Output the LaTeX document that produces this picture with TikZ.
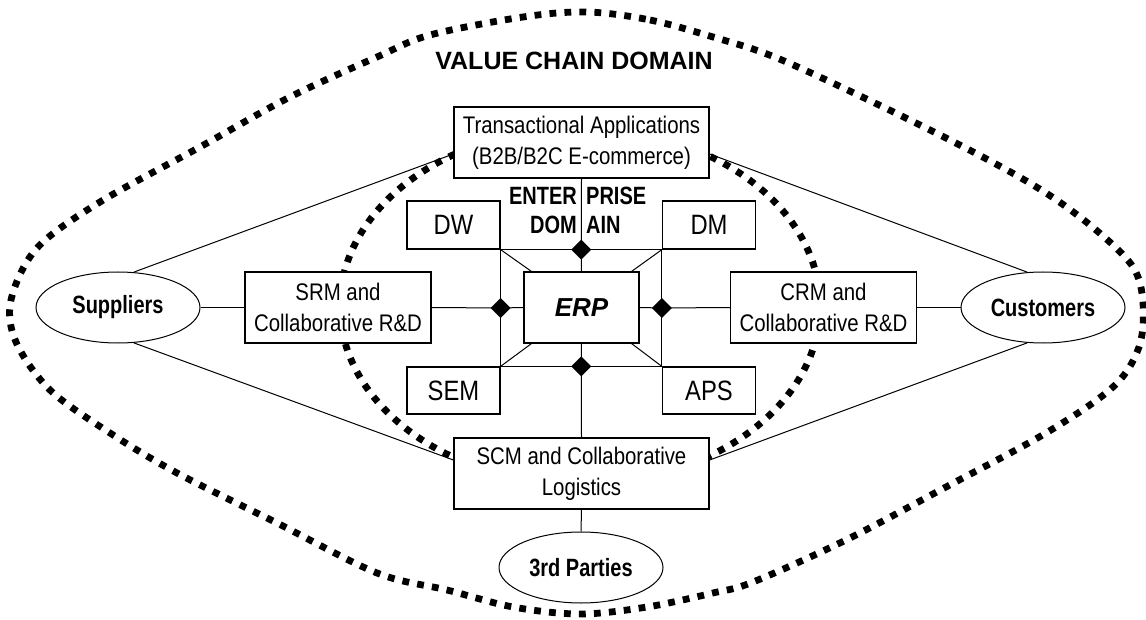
\documentclass[tikz,border=0pt]{standalone}
\usepackage{fontspec}
\setmainfont{Liberation Sans}
\newfontfamily\boxfont{Liberation Sans}[FakeStretch=0.85]
\newfontfamily\tagfont{Liberation Sans}[FakeStretch=0.8]
\usetikzlibrary{shapes.geometric,calc}

\tikzset{
  dotline/.style={line width=6.8pt, dash pattern=on 6.8pt off 8.2pt},
  box/.style={draw, fill=white, line width=1.3pt, inner sep=0pt, align=center,
    font=\boxfont\fontsize{24}{31}\selectfont},
  smallbox/.style={box, minimum width=93pt, minimum height=48pt,
    font=\boxfont\fontsize{28}{32}\selectfont},
  widebox/.style={box, minimum width=255pt, minimum height=71pt},
  sidebox/.style={box, minimum width=186pt, minimum height=71pt},
  party/.style={ellipse, draw, fill=white, line width=1pt, minimum width=164pt,
    minimum height=71pt, inner sep=0pt,
    font=\tagfont\bfseries\fontsize{25}{30}\selectfont},
  tag/.style={inner sep=0pt, font=\tagfont\bfseries\fontsize{25}{30}\selectfont},
  link/.style={line width=1pt},
  junction/.style={diamond, fill=black, inner sep=0pt, minimum width=20pt,
    minimum height=20pt},
}

\begin{document}
\begin{tikzpicture}[x=1pt, y=-1pt]
\useasboundingbox (0,0) rectangle (1146,620);

% value chain domain boundary
\draw[dotline] plot[smooth cycle, tension=0.55] coordinates {
  (587,12) (650,20) (713,37) (777,58) (879,105) (979,155) (1046,193)
  (1096,230) (1133,267) (1143,303) (1139,347) (1113,387) (1046,433)
  (946,487) (846,540) (753,582) (713,593) (647,607) (580,614) (513,607)
  (447,590) (377,573) (277,523) (177,473) (110,433) (50,390) (16,342)
  (11,300) (37,248) (100,202) (200,147) (290,97) (377,57) (430,35) (523,17)};

% enterprise domain boundary
\draw[dotline] (580,306) ellipse [x radius=240, y radius=178];

\node[inner sep=0pt, font=\bfseries\fontsize{25}{30}\selectfont] (title) at (574,61) {VALUE CHAIN DOMAIN};

% boxes
\node[widebox] (tr) at (581.5,142.5) {Transactional Applications\\(B2B/B2C E-commerce)};
\node[box, minimum width=115pt, minimum height=71pt,
      font=\bfseries\itshape\fontsize{26}{30}\selectfont] (erp) at (581.5,307.5) {ERP};
\node[smallbox] (dw)  at (453.5,225) {DW};
\node[smallbox] (dm)  at (709,225) {DM};
\node[smallbox, minimum height=47pt] (sem) at (453.5,390.5) {SEM};
\node[smallbox, minimum height=47pt] (aps) at (709,390.5) {APS};
\node[sidebox] (srm) at (338,307.5) {SRM and\\Collaborative R\&D};
\node[sidebox] (crm) at (823.5,307.5) {CRM and\\Collaborative R\&D};
\node[widebox] (scm) at (581.5,473.5) {SCM and Collaborative\\Logistics};

% external parties
\node[party] (sup) at (118,307.5) {Suppliers};
\node[party] (cus) at (1043,307.5) {Customers};
\node[party] (thd) at (581,567.5) {3rd Parties};

% enterprise domain label, split by the vertical bus
\node[tag, anchor=east] (entA) at (577,196) {ENTER};
\node[tag, anchor=west] (entB) at (586,196) {PRISE};
\node[tag, anchor=east] (domA) at (577,225) {DOM};
\node[tag, anchor=west] (domB) at (586,225) {AIN};

% junction points of the bus
\coordinate (jt) at ($(dw.south east)!0.5!(dm.south west)$);
\coordinate (jb) at ($(sem.north east)!0.5!(aps.north west)$);
\coordinate (jl) at ($(dw.south east)!0.5!(sem.north east)$);
\coordinate (jr) at ($(dm.south west)!0.5!(aps.north west)$);

% bus frame
\draw[link] (dw.south east) -- (dm.south west) -- (aps.north west)
            -- (sem.north east) -- cycle;
% spokes
\draw[link] (tr.south) -- (jt) -- (erp.north);
\draw[link] (scm.north) -- (jb) -- (erp.south);
\draw[link] (srm.east) -- (jl) -- (erp.west);
\draw[link] (crm.west) -- (jr) -- (erp.east);
\draw[link] (dw.south east) -- ([xshift=8pt]erp.north west);
\draw[link] (dm.south west) -- ([xshift=-8pt]erp.north east);
\draw[link] (sem.north east) -- ([xshift=8pt]erp.south west);
\draw[link] (aps.north west) -- ([xshift=-8pt]erp.south east);

% links to external parties
\draw[link] (sup.east) -- (srm.west);
\draw[link] (crm.east) -- (cus.west);
\draw[link] (scm.south) -- (thd.north);
\draw[link] (sup.66) -- ([yshift=-11.5pt]tr.west);
\draw[link] (sup.294) -- ([yshift=13.5pt]scm.west);
\draw[link] (cus.114) -- ([yshift=-11.5pt]tr.east);
\draw[link] (cus.246) -- ([yshift=13.5pt]scm.east);

% junction markers
\node[junction] (dt) at (jt) {};
\node[junction] (db) at (jb) {};
\node[junction] (dl) at (jl) {};
\node[junction] (dr) at (jr) {};
\end{tikzpicture}
\end{document}
